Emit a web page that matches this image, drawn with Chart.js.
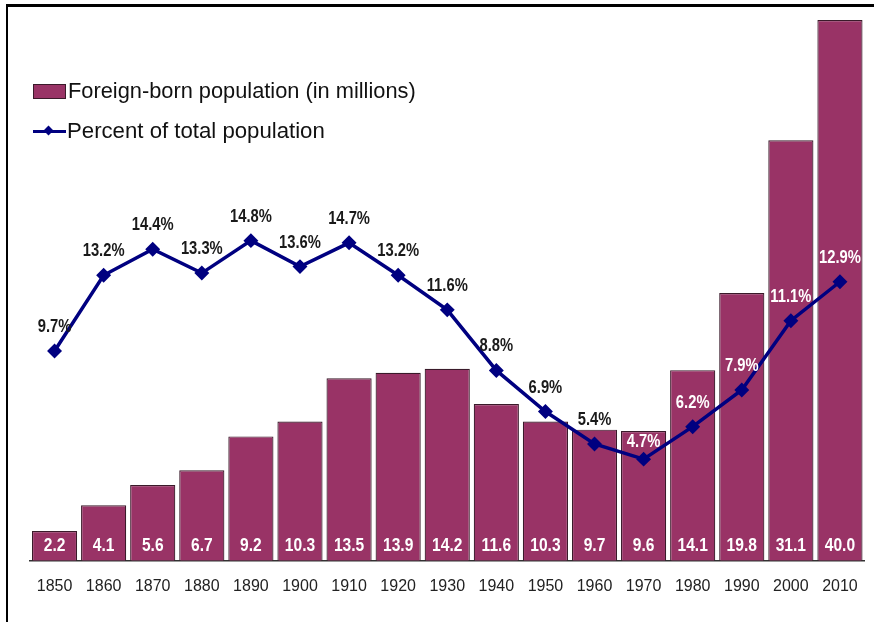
<!DOCTYPE html>
<html lang="en">
<head>
    <meta charset="UTF-8">
    <title>Foreign-born population</title>
    <style>
        body {
            margin: 0;
            padding: 0;
            background: #fff;
        }

        #wrap {
            position: relative;
            width: 874px;
            height: 622px;
        }

        #frame {
            position: absolute;
            left: 6px;
            top: 4px;
            right: 0;
            bottom: 0;
            border-top: 3px solid #000;
            border-left: 2px solid #000;
        }

        canvas {
            position: absolute;
            left: 0;
            top: 0;
        }

        #legend {
            position: absolute;
            left: 33px;
            top: 71px;
            font-family: "Liberation Sans", Arial, sans-serif;
            color: #111;
        }

        .item {
            height: 40px;
            display: flex;
            align-items: center;
        }

        .box {
            width: 31px;
            height: 13px;
            background: #993366;
            border: 1px solid #3a1a2a;
            margin-right: 2px;
        }

        .lineSample {
            position: relative;
            width: 33px;
            height: 3px;
            background: #000080;
            margin-right: 1px;
        }

        .lineSample span {
            position: absolute;
            left: 12px;
            top: -3px;
            width: 7px;
            height: 7px;
            background: #000080;
            transform: rotate(45deg);
        }
    </style>
</head>
<body>
    <div id="wrap">
        <div id="frame"></div>
        <canvas id="chart" width="874" height="622"></canvas>
        <div id="legend">
            <div class="item" style="font-size: 21.8px"><div class="box"></div>Foreign-born population (in millions)</div>
            <div class="item" style="font-size: 22.2px"><div class="lineSample"><span></span></div>Percent of total population</div>
        </div>
    </div>

    <script src="https://cdn.jsdelivr.net/npm/chart.js"></script>
    <script>
        const years = ['1850', '1860', '1870', '1880', '1890', '1900', '1910', '1920', '1930',
                       '1940', '1950', '1960', '1970', '1980', '1990', '2000', '2010'];
        const foreignBorn = [2.2, 4.1, 5.6, 6.7, 9.2, 10.3, 13.5, 13.9, 14.2, 11.6, 10.3, 9.7, 9.6, 14.1, 19.8, 31.1, 40.0];
        const percentTotal = [9.7, 13.2, 14.4, 13.3, 14.8, 13.6, 14.7, 13.2, 11.6, 8.8, 6.9, 5.4, 4.7, 6.2, 7.9, 11.1, 12.9];

        const sans = '"Liberation Sans", Arial, sans-serif';

        // no narrow font installed, so squeeze the labels a bit
        function narrowText(ctx, text, x, y) {
            ctx.save();
            ctx.translate(x, y);
            ctx.scale(0.82, 1);
            ctx.fillText(text, 0, 0);
            ctx.restore();
        }

        // value labels for bars (white, bottom of bar) and line (above points)
        const valueLabels = {
            id: 'valueLabels',
            afterDatasetsDraw(chart) {
                const ctx = chart.ctx;
                const bars = chart.getDatasetMeta(0).data;
                const points = chart.getDatasetMeta(1).data;
                const bottom = chart.chartArea.bottom;
                ctx.save();
                ctx.textAlign = 'center';
                ctx.textBaseline = 'middle';

                ctx.font = 'bold 19px ' + sans;
                ctx.fillStyle = '#fff';
                bars.forEach((bar, i) => {
                    narrowText(ctx, foreignBorn[i].toFixed(1), bar.x, bottom - 15);
                });

                ctx.font = 'bold 18px ' + sans;
                points.forEach((pt, i) => {
                    let y = pt.y - 24;
                    const top = bars[i].y;
                    // label sitting on the bar edge gets pushed inside it
                    if (y > top - 8 && y < top + 10) y = top + 11;
                    ctx.fillStyle = y > top + 2 ? '#fff' : '#1a1a1a';
                    narrowText(ctx, percentTotal[i].toFixed(1) + '%', pt.x, y);
                });
                ctx.restore();
            }
        };

        new Chart(document.getElementById('chart'), {
            type: 'bar',
            data: {
                labels: years,
                datasets: [
                    {
                        type: 'bar',
                        label: 'Foreign-born population (in millions)',
                        data: foreignBorn,
                        backgroundColor: '#993366',
                        borderColor: '#3a1a2a',
                        borderWidth: 1.2,
                        categoryPercentage: 1,
                        barPercentage: 0.92,
                        yAxisID: 'y',
                        order: 1
                    },
                    {
                        type: 'line',
                        label: 'Percent of total population',
                        data: percentTotal,
                        borderColor: '#000080',
                        backgroundColor: '#000080',
                        borderWidth: 3.5,
                        tension: 0,
                        pointStyle: 'rectRot',
                        pointRadius: 5,
                        pointHoverRadius: 5,
                        yAxisID: 'y2',
                        order: 0
                    }
                ]
            },
            options: {
                responsive: false,
                animation: false,
                layout: {
                    padding: { left: 30, right: 8, top: 20, bottom: 10 }
                },
                plugins: {
                    legend: { display: false },
                    tooltip: { enabled: false }
                },
                scales: {
                    x: {
                        grid: { display: false, drawTicks: false },
                        border: { display: true, color: '#333', width: 1.5 },
                        ticks: {
                            color: '#222',
                            padding: 16,
                            font: { family: sans, size: 16 }
                        }
                    },
                    y: {
                        display: false,
                        min: 0,
                        max: 40
                    },
                    y2: {
                        display: false,
                        min: 0,
                        max: 25
                    }
                }
            },
            plugins: [valueLabels]
        });
    </script>
</body>
</html>
